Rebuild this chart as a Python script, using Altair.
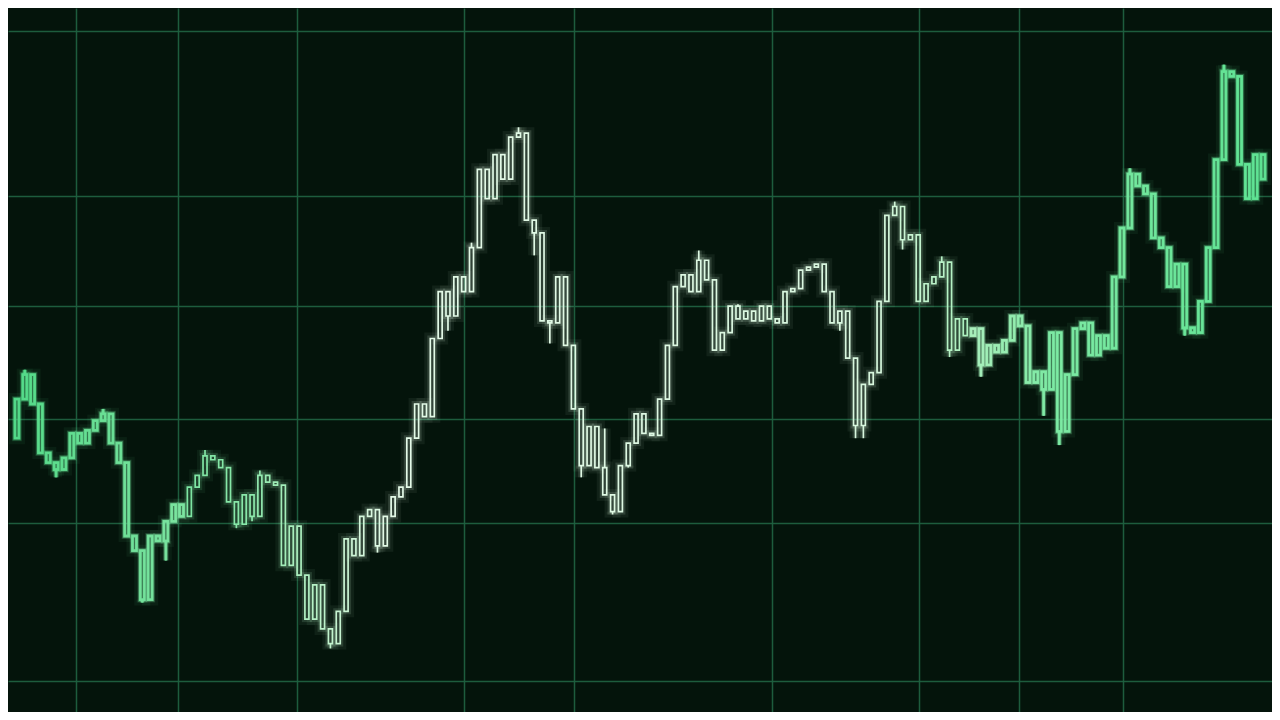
import altair as alt
import pandas as pd

# Price series (arbitrary price units, one candle per period)
first_open = 280
closes = [
    320, 345, 315, 265, 255, 248, 260, 285, 275, 288,
    298, 305, 275, 255, 180, 165, 115, 180, 175, 195,
    212, 200, 230, 242, 262, 258, 250, 215, 192, 222,
    200, 242, 235, 232, 150, 190, 140, 95, 130, 85,
    70, 103, 177, 160, 200, 207, 170, 200, 220, 230,
    280, 315, 302, 382, 430, 405, 445, 430, 475, 555,
    525, 570, 545, 588, 592, 503, 490, 400, 398, 445,
    375, 310, 252, 292, 250, 222, 205, 252, 275, 305,
    285, 283, 320, 375, 435, 447, 430, 462, 442, 370,
    388, 415, 402, 410, 400, 415, 402, 398, 430, 433,
    452, 455, 458, 430, 398, 410, 362, 293, 335, 347,
    420, 508, 517, 483, 488, 420, 438, 445, 460, 370,
    402, 385, 392, 355, 375, 368, 380, 405, 395, 337,
    348, 330, 388, 287, 345, 392, 398, 365, 385, 372,
    445, 495, 550, 538, 530, 485, 475, 435, 458, 393,
    388, 420, 475, 565, 655, 650, 560, 525, 570, 545,
]
# wick tips that stick out beyond the bodies (candle index -> price)
high_tips = {1: 350, 11: 310, 24: 268, 31: 247, 64: 598, 70: 443, 75: 290,
             87: 472, 92: 417, 103: 455, 112: 522, 58: 480, 118: 466, 142: 556, 154: 662}
low_tips = {5: 240, 16: 112, 19: 155, 28: 188, 30: 195, 40: 65, 46: 163,
            53: 357, 55: 390, 59: 500, 66: 467, 68: 377, 72: 240, 76: 202,
            78: 250, 105: 390, 107: 280, 108: 280, 113: 473, 119: 363,
            123: 343, 131: 303, 133: 273, 149: 385}

grid_x = [8.1, 21.0, 36.25, 57.5, 71.6, 96.9, 115.6, 128.4, 141.6]
grid_y = [696, 528, 415, 300, 193, 32]

opens = [first_open] + closes[:-1]
rows = []
for i, (o, c) in enumerate(zip(opens, closes)):
    top, bot = max(o, c), min(o, c)
    rows.append(dict(t=i + 0.5, open=o, close=c, top=top, bot=bot,
                     high=high_tips.get(i, top), low=low_tips.get(i, bot)))
df = pd.DataFrame(rows)

xs = alt.Scale(domain=[0, 160], nice=False, zero=False)
ys = alt.Scale(domain=[0, 720], nice=False, zero=False)
cs = alt.Scale(domain=[0, 30, 48, 110, 132, 160],
               range=["#52da88", "#8ae8aa", "#e4fae8", "#d8f7de", "#7eeaa4", "#5ee393"])

GRID = dict(grid=True, labels=False, ticks=False, domain=False, title=None,
            gridColor="#1f6040", gridWidth=1.5, gridOpacity=0.95)
X = alt.X("t:Q", scale=xs, axis=alt.Axis(values=grid_x, **GRID))
Y = alt.Y("top:Q", scale=ys, axis=alt.Axis(values=grid_y, **GRID))
C = alt.Color("t:Q", scale=cs, legend=None)


def layer(data, width, opacity, size=4):
    up = data[data.high > data.top]
    dn = data[data.low < data.bot]
    body = alt.Chart(data).mark_bar(filled=False, size=size, strokeWidth=width,
                                    opacity=opacity).encode(
        x=X, y=Y, y2="bot:Q", color=C)
    w_up = alt.Chart(up).mark_rule(strokeWidth=width, opacity=opacity).encode(
        x="t:Q", y="top:Q", y2="high:Q", color=C)
    w_dn = alt.Chart(dn).mark_rule(strokeWidth=width, opacity=opacity).encode(
        x="t:Q", y="low:Q", y2="bot:Q", color=C)
    return [body, w_up, w_dn]


# out-of-focus (blurred, thicker) parts of the photographed screen
soft = df[(df.t < 22) | (df.t > 122)]

layers = (layer(df, 12, 0.06) + layer(df, 6, 0.14) + layer(soft, 4.5, 0.35)
          + layer(soft, 2.8, 0.9) + layer(df, 1.7, 1.0))

chart = alt.layer(*layers).properties(
    width=1264, height=704,
    autosize=alt.AutoSizeParams(type="fit", contains="padding"),
    padding=0, background="#03110a",
).configure_view(strokeWidth=0, fill="#04140b")

chart.save("out.html", embed_options={"renderer": "svg", "actions": False})
